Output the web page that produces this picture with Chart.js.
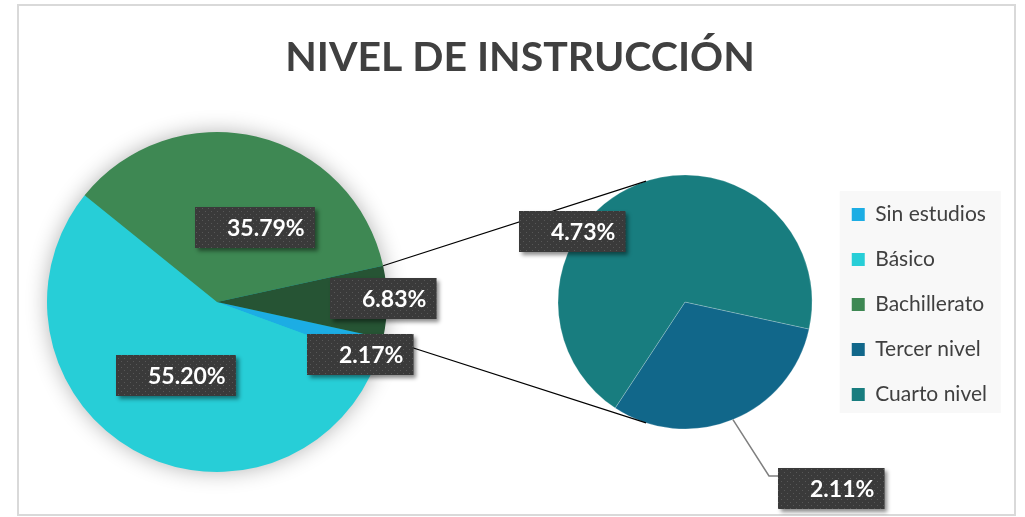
<!DOCTYPE html>
<html>
<head>
<meta charset="utf-8">
<script src="https://cdn.jsdelivr.net/npm/chart.js@4.4.1/dist/chart.umd.min.js"></script>
<style>
  html, body { margin: 0; padding: 0; background: #ffffff; }
  canvas { display: block; }
</style>
</head>
<body>
<canvas id="chart" width="1025" height="517"></canvas>
<script>
// ---- data ----
const mainLabels   = ['Sin estudios', 'Básico', 'Bachillerato', 'Otros'];
const mainValues   = [2.17, 55.20, 35.79, 6.83];
const detailLabels = ['Tercer nivel', 'Cuarto nivel'];
const detailValues = [2.11, 4.73];
const legendLabels = ['Sin estudios', 'Básico', 'Bachillerato', 'Tercer nivel', 'Cuarto nivel'];
const chartTitle   = 'NIVEL DE INSTRUCCIÓN';

// ---- styles ----
const mainColors   = ['#1CADE4', '#27CED7', '#3E8853', '#265434'];
const detailColors = ['#11678A', '#187D7F'];
const legendColors = ['#1CADE4', '#27CED7', '#3E8853', '#11678A', '#187D7F'];
const textColor    = '#404040';
const labelFont    = 'bold 23px Lato, "Open Sans", sans-serif';

// ---- layout of the two pies (centre and radius) ----
const mainGeom   = { cx: 217, cy: 302, r: 170 };
const detailGeom = { cx: 685, cy: 302, r: 127 };
// label box nudges relative to each slice's centroid
const mainNudge   = [[62, 29], [1, 0], [18, 8], [81, -4]];
const detailNudge = [[122, 128], [-89, -12]];

// the "Otros" slice sits centred on the right-hand side
const sum = a => a.reduce((s, v) => s + v, 0);
const otherShare = mainValues[mainValues.length - 1] / sum(mainValues);
const pieRotation = 90 + otherShare * 180;

// dotted texture for the value tags
function makeDotPattern(ctx) {
  const tile = document.createElement('canvas');
  tile.width = 6; tile.height = 6;
  const t = tile.getContext('2d');
  t.fillStyle = '#3a3a3a';
  t.fillRect(0, 0, 6, 6);
  t.fillStyle = '#575757';
  t.fillRect(1, 1, 1, 1);
  t.fillRect(4, 4, 1, 1);
  return ctx.createPattern(tile, 'repeat');
}

function drawTag(ctx, pattern, text, cx, cy) {
  ctx.save();
  ctx.font = labelFont;
  const tw = ctx.measureText(text).width;
  const w = tw + 42, h = 41;
  const left = Math.round(cx - w / 2), top = Math.round(cy - h / 2);
  ctx.shadowColor = 'rgba(0,0,0,0.45)';
  ctx.shadowBlur = 4;
  ctx.shadowOffsetX = 3;
  ctx.shadowOffsetY = 3;
  ctx.fillStyle = '#3a3a3a';
  ctx.fillRect(left, top, w, h);
  ctx.shadowColor = 'transparent';
  ctx.fillStyle = pattern;
  ctx.fillRect(left, top, w, h);
  ctx.fillStyle = '#ffffff';
  ctx.textAlign = 'right';
  ctx.textBaseline = 'middle';
  ctx.fillText(text, left + w - 10, top + h / 2 + 1);
  ctx.restore();
  return { left, top, w, h };
}

function tangentPoint(p, c, r, sign) {
  const dx = p.x - c.x, dy = p.y - c.y;
  const d = Math.hypot(dx, dy);
  const a = Math.atan2(dy, dx) + sign * Math.acos(r / d);
  return { x: c.x + r * Math.cos(a), y: c.y + r * Math.sin(a) };
}

const pieOfPie = {
  id: 'pieOfPie',
  beforeDraw(chart) {
    const ctx = chart.ctx;
    ctx.save();
    ctx.fillStyle = '#ffffff';
    ctx.fillRect(0, 0, chart.width, chart.height);
    // frame
    ctx.strokeStyle = '#d9d9d9';
    ctx.lineWidth = 2;
    ctx.strokeRect(18, 5, 997, 510);
    // legend panel
    const lg = chart.legend;
    if (lg && lg.legendHitBoxes && lg.legendHitBoxes.length) {
      const hb = lg.legendHitBoxes;
      const first = hb[0], last = hb[hb.length - 1];
      const x0 = first.left - 12, y0 = first.top - 13;
      ctx.fillStyle = '#f8f8f8';
      ctx.fillRect(x0, y0, 161, last.top + last.height + 8 - y0);
    }
    ctx.restore();
  },
  afterDatasetsUpdate(chart) {
    [mainGeom, detailGeom].forEach((g, i) => {
      chart.getDatasetMeta(i).data.forEach(arc => {
        arc.x = g.cx;
        arc.y = g.cy;
        arc.innerRadius = 0;
        arc.outerRadius = g.r;
      });
    });
  },
  beforeDatasetDraw(chart, args) {
    if (args.index !== 0) return;
    const arc = args.meta.data[0];
    const ctx = chart.ctx;
    ctx.save();
    ctx.shadowColor = 'rgba(0,0,0,0.32)';
    ctx.shadowBlur = 22;
    ctx.fillStyle = mainColors[1];
    ctx.beginPath();
    ctx.arc(arc.x, arc.y, arc.outerRadius - 1, 0, Math.PI * 2);
    ctx.fill();
    ctx.restore();
  },
  afterDatasetsDraw(chart) {
    const ctx = chart.ctx;
    const pattern = makeDotPattern(ctx);
    const main = chart.getDatasetMeta(0).data;
    const detail = chart.getDatasetMeta(1).data;

    // connectors from the "Otros" slice to the secondary pie
    const other = main[main.length - 1];
    const c2 = { x: detail[0].x, y: detail[0].y };
    const r2 = detail[0].outerRadius;
    const pTop = { x: other.x + other.outerRadius * Math.cos(other.startAngle),
                   y: other.y + other.outerRadius * Math.sin(other.startAngle) };
    const pBot = { x: other.x + other.outerRadius * Math.cos(other.endAngle),
                   y: other.y + other.outerRadius * Math.sin(other.endAngle) };
    const tTop = tangentPoint(pTop, c2, r2, 1);
    const tBot = tangentPoint(pBot, c2, r2, -1);
    ctx.save();
    ctx.strokeStyle = '#000000';
    ctx.lineWidth = 1.2;
    ctx.beginPath();
    ctx.moveTo(pTop.x, pTop.y); ctx.lineTo(tTop.x, tTop.y);
    ctx.moveTo(pBot.x, pBot.y); ctx.lineTo(tBot.x, tBot.y);
    ctx.stroke();
    ctx.restore();

    // value tags on the main pie
    main.forEach((arc, i) => {
      const cp = arc.getCenterPoint();
      drawTag(ctx, pattern, mainValues[i].toFixed(2) + '%',
              cp.x + mainNudge[i][0], cp.y + mainNudge[i][1]);
    });

    // value tags on the secondary pie (first one has a leader line)
    detail.forEach((arc, i) => {
      const cp = arc.getCenterPoint();
      const bx = cp.x + detailNudge[i][0], by = cp.y + detailNudge[i][1];
      if (i === 0) {
        ctx.font = labelFont;
        const w = ctx.measureText(detailValues[i].toFixed(2) + '%').width + 42;
        const left = Math.round(bx - w / 2), top = Math.round(by - 41 / 2);
        const mid = (arc.startAngle + arc.endAngle) / 2;
        ctx.save();
        ctx.strokeStyle = '#7f7f7f';
        ctx.lineWidth = 1.5;
        ctx.beginPath();
        ctx.moveTo(arc.x + arc.outerRadius * Math.cos(mid), arc.y + arc.outerRadius * Math.sin(mid));
        ctx.lineTo(left - 9, top + 8);
        ctx.lineTo(left, top + 8);
        ctx.stroke();
        ctx.restore();
      }
      drawTag(ctx, pattern, detailValues[i].toFixed(2) + '%', bx, by);
    });
  }
};

new Chart(document.getElementById('chart'), {
  type: 'pie',
  data: {
    labels: mainLabels,
    datasets: [
      { label: 'Nivel', data: mainValues, backgroundColor: mainColors,
        borderWidth: 0, rotation: pieRotation },
      { label: 'Detalle', data: detailValues, backgroundColor: detailColors,
        borderWidth: 0.6, borderColor: 'rgba(255,255,255,0.35)', rotation: pieRotation }
    ]
  },
  options: {
    responsive: false,
    animation: false,
    events: [],
    devicePixelRatio: 1,
    layout: { padding: { right: 28, left: 43 } },
    plugins: {
      tooltip: { enabled: false },
      title: {
        display: true,
        text: chartTitle,
        color: textColor,
        font: { family: 'Lato, "Open Sans", sans-serif', size: 41, weight: 'bold' },
        padding: { top: 33, bottom: 10 }
      },
      legend: {
        display: true,
        position: 'right',
        fullSize: false,
        labels: {
          color: textColor,
          font: { family: 'Lato, "Open Sans", sans-serif', size: 21 },
          boxWidth: 13,
          boxHeight: 13,
          padding: 24,
          generateLabels: () => legendLabels.map((t, i) => ({
            text: t,
            fillStyle: legendColors[i],
            strokeStyle: legendColors[i],
            lineWidth: 0,
            fontColor: textColor,
            hidden: false,
            index: i
          }))
        }
      }
    }
  },
  plugins: [pieOfPie]
});
</script>
</body>
</html>
